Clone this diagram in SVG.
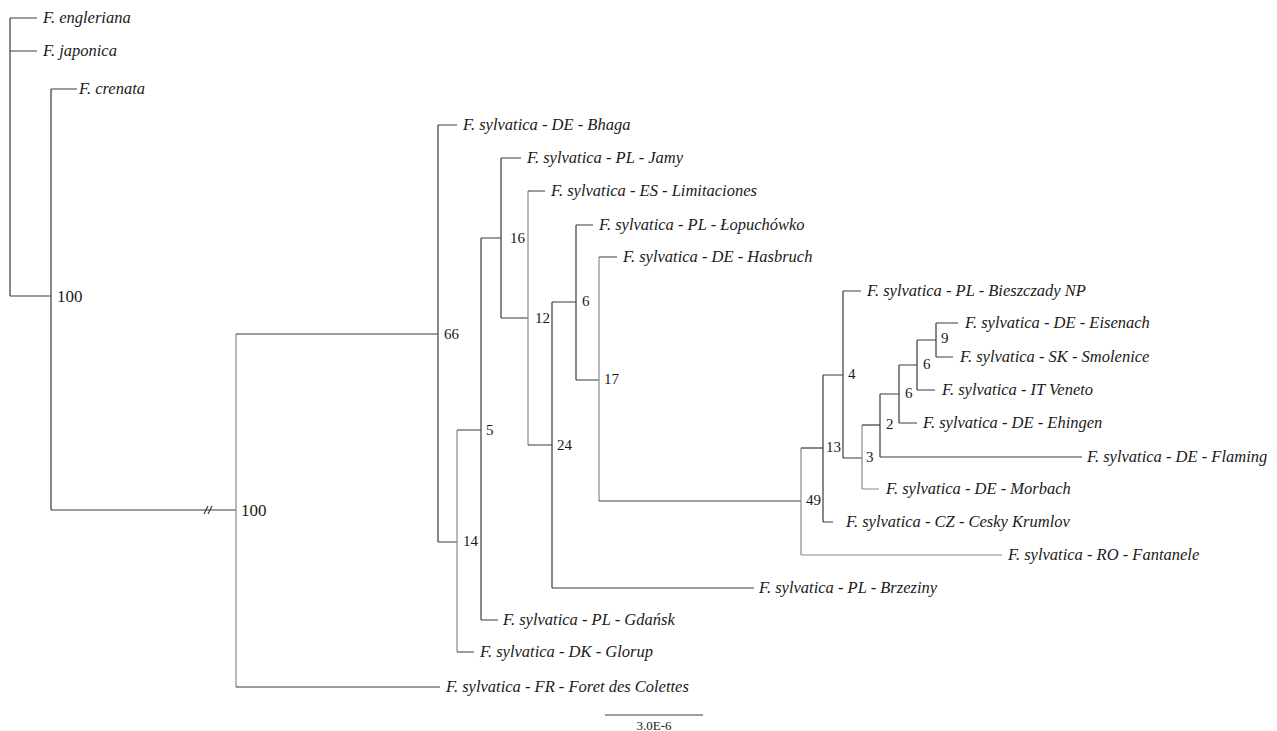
<svg xmlns="http://www.w3.org/2000/svg" width="1277" height="731" viewBox="0 0 1277 731">
<style>
.d{fill:none;stroke:#3a3a3a;stroke-width:1.2}
.l{fill:none;stroke:#8a8a8a;stroke-width:1.2}
.t{font-family:"Liberation Serif",serif;font-style:italic;font-size:16.5px;fill:#1a1a1a}
.n{font-family:"Liberation Serif",serif;font-size:15px;fill:#1a1a1a}
.b{font-family:"Liberation Serif",serif;font-size:17px;fill:#1a1a1a}
.s{font-family:"Liberation Serif",serif;font-size:13px;fill:#1a1a1a}
</style>
<rect width="1277" height="731" fill="#fff"/>
<g id="connectors">
<path class="d" d="M10 18V296M10 18H37M10 51H37M10 296H51M51 89V510M51 89H77M51 510H236"/>
<path class="d" d="M204 514L208 506M208 514L212 506"/>
<path class="l" d="M236 334V687"/>
<path class="d" d="M236 334H438M236 687H440"/>
<path class="d" d="M438 125V542M438 125H457M438 542H457"/>
<path class="l" d="M457 430V652"/>
<path class="d" d="M457 430H481M457 652H474"/>
<path class="d" d="M481 238V620M481 238H501M481 620H498"/>
<path class="d" d="M501 158V318M501 158H521M501 318H528"/>
<path class="l" d="M528 191V445"/>
<path class="d" d="M528 191H545M528 445H552"/>
<path class="d" d="M552 302V588M552 302H576M552 588H754"/>
<path class="d" d="M576 225V380M576 225H593M576 380H599"/>
<path class="l" d="M599 257V501"/>
<path class="d" d="M599 257H617M599 501H801"/>
<path class="l" d="M801 448V555M801 555H1002"/>
<path class="d" d="M801 448H823"/>
<path class="d" d="M823 375V522M823 522H833M823 375H843"/>
<path class="d" d="M843 291V458M843 291H861M843 458H862"/>
<path class="l" d="M862 425V489M862 489H879"/>
<path class="d" d="M862 425H880"/>
<path class="d" d="M880 394V457M880 457H1082M880 394H899"/>
<path class="d" d="M899 365V423M899 423H917M899 365H917"/>
<path class="d" d="M917 340V390M917 390H935M917 340H936"/>
<path class="d" d="M936 323V357M936 323H958M936 357H953"/>
</g>
<g id="leaf-engleriana"><text class="t" x="43" y="23">F. engleriana</text></g>
<g id="leaf-japonica"><text class="t" x="43" y="56">F. japonica</text></g>
<g id="leaf-crenata"><text class="t" x="79" y="94">F. crenata</text></g>
<g id="node-100a"><text class="b" x="57" y="302">100</text></g>
<g id="node-100b"><text class="b" x="241" y="516">100</text></g>
<g id="node-66"><text class="n" x="444" y="339">66</text></g>
<g id="leaf-bhaga"><text class="t" x="463" y="130">F. sylvatica - DE - Bhaga</text></g>
<g id="leaf-jamy"><text class="t" x="527" y="163">F. sylvatica - PL - Jamy</text></g>
<g id="leaf-limitaciones"><text class="t" x="551" y="196">F. sylvatica - ES - Limitaciones</text></g>
<g id="leaf-lopuchowko"><text class="t" x="599" y="230">F. sylvatica - PL - Łopuchówko</text></g>
<g id="leaf-hasbruch"><text class="t" x="623" y="262">F. sylvatica - DE - Hasbruch</text></g>
<g id="node-16"><text class="n" x="510" y="243">16</text></g>
<g id="node-12"><text class="n" x="535" y="323">12</text></g>
<g id="node-6a"><text class="n" x="582" y="306">6</text></g>
<g id="node-17"><text class="n" x="604" y="384">17</text></g>
<g id="node-5"><text class="n" x="486" y="435">5</text></g>
<g id="node-24"><text class="n" x="557" y="450">24</text></g>
<g id="node-14"><text class="n" x="463" y="546">14</text></g>
<g id="leaf-gdansk"><text class="t" x="503" y="625">F. sylvatica - PL - Gdańsk</text></g>
<g id="leaf-glorup"><text class="t" x="480" y="657">F. sylvatica - DK - Glorup</text></g>
<g id="leaf-colettes"><text class="t" x="446" y="692">F. sylvatica - FR - Foret des Colettes</text></g>
<g id="leaf-brzeziny"><text class="t" x="759" y="593">F. sylvatica - PL - Brzeziny</text></g>
<g id="node-49"><text class="n" x="806" y="505">49</text></g>
<g id="node-13"><text class="n" x="826" y="452">13</text></g>
<g id="node-4"><text class="n" x="848" y="379">4</text></g>
<g id="node-3"><text class="n" x="866" y="462">3</text></g>
<g id="node-2"><text class="n" x="886" y="429">2</text></g>
<g id="node-6b"><text class="n" x="905" y="398">6</text></g>
<g id="node-6c"><text class="n" x="923" y="369">6</text></g>
<g id="node-9"><text class="n" x="941" y="343">9</text></g>
<g id="leaf-bieszczady"><text class="t" x="867" y="296">F. sylvatica - PL - Bieszczady NP</text></g>
<g id="leaf-eisenach"><text class="t" x="965" y="328">F. sylvatica - DE - Eisenach</text></g>
<g id="leaf-smolenice"><text class="t" x="960" y="362">F. sylvatica - SK - Smolenice</text></g>
<g id="leaf-veneto"><text class="t" x="942" y="395">F. sylvatica - IT Veneto</text></g>
<g id="leaf-ehingen"><text class="t" x="923" y="428">F. sylvatica - DE - Ehingen</text></g>
<g id="leaf-flaming"><text class="t" x="1087" y="462">F. sylvatica - DE - Flaming</text></g>
<g id="leaf-morbach"><text class="t" x="886" y="494">F. sylvatica - DE - Morbach</text></g>
<g id="leaf-cesky"><text class="t" x="846" y="527">F. sylvatica - CZ - Cesky Krumlov</text></g>
<g id="leaf-fantanele"><text class="t" x="1008" y="560">F. sylvatica - RO - Fantanele</text></g>
<g id="scale-bar">
<path class="d" d="M605 715H703"/>
<text class="s" x="654" y="730" text-anchor="middle">3.0E-6</text>
</g>
</svg>
